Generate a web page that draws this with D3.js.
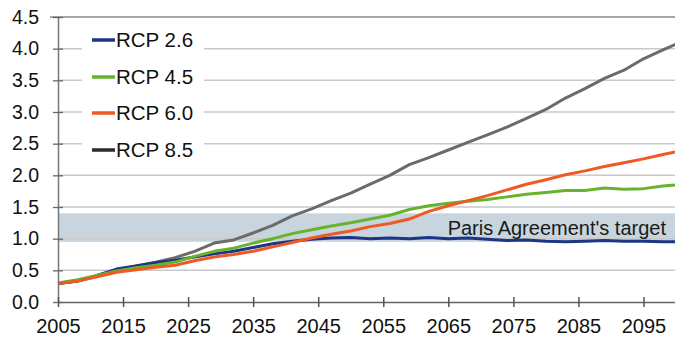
<!DOCTYPE html>
<html>
<head>
<meta charset="utf-8">
<script src="https://cdn.jsdelivr.net/npm/d3@7"></script>
<style>
  html, body { margin: 0; padding: 0; background: #fff; }
  svg { display: block; font-family: "Liberation Sans", Arial, sans-serif; }
</style>
</head>
<body>
<svg id="chart" width="675" height="339"></svg>
<script>
// Projected global warming (°C above 2005 level) under four RCP scenarios
const years = [2005, 2008, 2011, 2014, 2017, 2020, 2023, 2026, 2029, 2032, 2035,
  2038, 2041, 2044, 2047, 2050, 2053, 2056, 2059, 2062, 2065, 2068, 2071, 2074,
  2077, 2080, 2083, 2086, 2089, 2092, 2095, 2098, 2100];

const rcp26 = [0.29, 0.33, 0.42, 0.52, 0.57, 0.62, 0.66, 0.71, 0.76, 0.80, 0.86,
  0.92, 0.96, 0.99, 1.01, 1.02, 1.00, 1.01, 1.00, 1.02, 1.00, 1.01, 0.99, 0.97,
  0.98, 0.96, 0.95, 0.96, 0.97, 0.96, 0.96, 0.95, 0.95];

const rcp45 = [0.30, 0.35, 0.42, 0.49, 0.54, 0.58, 0.63, 0.72, 0.80, 0.85, 0.93,
  1.00, 1.08, 1.14, 1.20, 1.25, 1.31, 1.37, 1.46, 1.52, 1.56, 1.59, 1.62, 1.66,
  1.70, 1.73, 1.76, 1.76, 1.80, 1.78, 1.79, 1.83, 1.85];

const rcp60 = [0.29, 0.33, 0.40, 0.47, 0.51, 0.55, 0.58, 0.65, 0.71, 0.75, 0.80,
  0.87, 0.94, 1.01, 1.07, 1.12, 1.19, 1.24, 1.31, 1.43, 1.52, 1.60, 1.68, 1.77,
  1.86, 1.93, 2.01, 2.07, 2.14, 2.20, 2.26, 2.33, 2.37];

const rcp85 = [0.29, 0.33, 0.41, 0.51, 0.57, 0.63, 0.70, 0.80, 0.93, 0.98, 1.09,
  1.21, 1.36, 1.47, 1.60, 1.72, 1.86, 2.00, 2.17, 2.28, 2.40, 2.52, 2.64, 2.76,
  2.90, 3.04, 3.22, 3.37, 3.53, 3.66, 3.84, 3.98, 4.07];

const seriesNames = ["RCP 2.6", "RCP 4.5", "RCP 6.0", "RCP 8.5"];
const lineColors = ["#1c3585", "#68b32c", "#ee5a24", "#6b6b6b"];
const swatchColors = ["#1c3585", "#68b32c", "#ee5a24", "#2a2a2a"];

const yTicks = [0, 0.5, 1, 1.5, 2, 2.5, 3, 3.5, 4, 4.5];
const xTicks = [2005, 2015, 2025, 2035, 2045, 2055, 2065, 2075, 2085, 2095];

const targetBand = [0.95, 1.40];
const targetLabel = "Paris Agreement's target";

const svg = d3.select("#chart");
const m = { left: 58, right: 676, top: 17, bottom: 302 };

const x = d3.scaleLinear().domain([2005, 2100]).range([m.left, m.right]);
const y = d3.scaleLinear().domain([0, 4.5]).range([m.bottom, m.top]);

// target band
svg.append("rect")
  .attr("x", m.left).attr("width", m.right - m.left)
  .attr("y", y(targetBand[1])).attr("height", y(targetBand[0]) - y(targetBand[1]))
  .attr("fill", "#c8d5de");

// horizontal gridlines
svg.append("g")
  .selectAll("line")
  .data(yTicks.filter(d => d > 0 && d < 4.5))
  .join("line")
  .attr("x1", m.left).attr("x2", m.right)
  .attr("y1", d => y(d)).attr("y2", d => y(d))
  .attr("stroke", "#c9c9c9").attr("stroke-width", 1.5);

// top border
svg.append("line")
  .attr("x1", m.left - 8).attr("x2", m.right)
  .attr("y1", y(4.5)).attr("y2", y(4.5))
  .attr("stroke", "#8a8a8a").attr("stroke-width", 1.5);

svg.append("text")
  .attr("x", 666).attr("y", y(1.175) + 7)
  .attr("text-anchor", "end")
  .attr("font-size", 20)
  .attr("fill", "#1a1a1a")
  .text(targetLabel);

// legend background covers the gridlines
svg.append("rect")
  .attr("x", 82).attr("y", 22).attr("width", 122).attr("height", 145)
  .attr("fill", "#fff");

// series lines
const series = [rcp26, rcp45, rcp60, rcp85];
const line = d3.line().x((d, i) => x(years[i])).y(d => y(d)).curve(d3.curveLinear);
const drawOrder = [3, 0, 1, 2];
drawOrder.forEach(k => {
  svg.append("path")
    .datum(series[k])
    .attr("d", line)
    .attr("fill", "none")
    .attr("stroke", lineColors[k])
    .attr("stroke-width", 3)
    .attr("stroke-linejoin", "round");
});

// axes
const yAxis = d3.axisLeft(y).tickValues(yTicks).tickFormat(d3.format(".1f"))
  .tickSizeInner(6).tickSizeOuter(0).tickPadding(14);
const gy = svg.append("g").attr("transform", `translate(${m.left},0)`).call(yAxis);
gy.select(".domain").attr("stroke", "#777").attr("stroke-width", 1.5);
gy.selectAll(".tick line").attr("x2", 5).attr("x1", -5).attr("stroke", "#666").attr("stroke-width", 1.3);
gy.selectAll(".tick text").attr("font-size", 19.5).attr("fill", "#111")
  .attr("font-family", "Liberation Sans, Arial, sans-serif").attr("x", -19);

const xAxis = d3.axisBottom(x).tickValues(xTicks).tickFormat(d3.format("d"))
  .tickSizeInner(6).tickSizeOuter(0).tickPadding(12);
const gx = svg.append("g").attr("transform", `translate(0,${m.bottom})`).call(xAxis);
gx.select(".domain").attr("stroke", "#666").attr("stroke-width", 1.5);
gx.selectAll(".tick line").attr("y1", -5).attr("y2", 5).attr("stroke", "#555").attr("stroke-width", 1.5);
gx.selectAll(".tick text").attr("font-size", 20).attr("fill", "#111")
  .attr("font-family", "Liberation Sans, Arial, sans-serif").attr("y", 17);

// legend
const legendRows = [40, 77, 113, 150];
const lg = svg.append("g");
seriesNames.forEach((name, i) => {
  lg.append("line")
    .attr("x1", 92).attr("x2", 115)
    .attr("y1", legendRows[i]).attr("y2", legendRows[i])
    .attr("stroke", swatchColors[i]).attr("stroke-width", 3.5);
  lg.append("text")
    .attr("x", 116).attr("y", legendRows[i] + 7)
    .attr("font-size", 20.5).attr("fill", "#111")
    .text(name);
});
</script>
</body>
</html>
